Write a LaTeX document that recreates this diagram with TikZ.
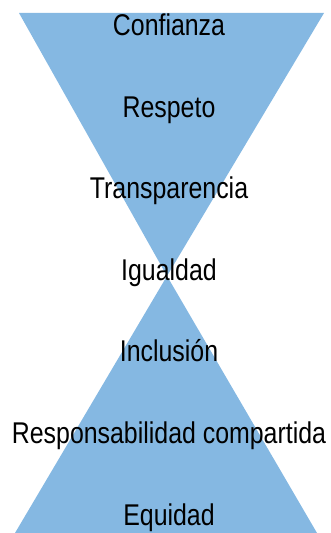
\documentclass[tikz,border=0pt]{standalone}
\usepackage{fontspec}
\setmainfont{Liberation Sans}
\newfontfamily\lblfont[FakeStretch=0.83]{Liberation Sans}
\definecolor{hgblue}{RGB}{133,184,226}
\begin{document}
\begin{tikzpicture}[x=1pt,y=1pt,
  lbl/.style={anchor=base,inner sep=0pt,font=\lblfont\fontsize{30}{31}\selectfont,text=black}]
\useasboundingbox (0,0) rectangle (331,533);
% hourglass triangles
\fill[hgblue] (19,520) -- (324,520) -- (167,257) -- cycle;
\fill[hgblue] (167,257) -- (317,0) -- (15,0) -- cycle;
% labels (baselines)
\node[lbl] (t1) at (169,497) {Confianza};
\node[lbl] (t2) at (169,415.5) {Respeto};
\node[lbl] (t3) at (169,334) {Transparencia};
\node[lbl] (t4) at (169,252.5) {Igualdad};
\node[lbl] (t5) at (169,171) {Inclusión};
\node[lbl] (t6) at (169,89.5) {Responsabilidad compartida};
\node[lbl] (t7) at (169,8) {Equidad};
\end{tikzpicture}
\end{document}
